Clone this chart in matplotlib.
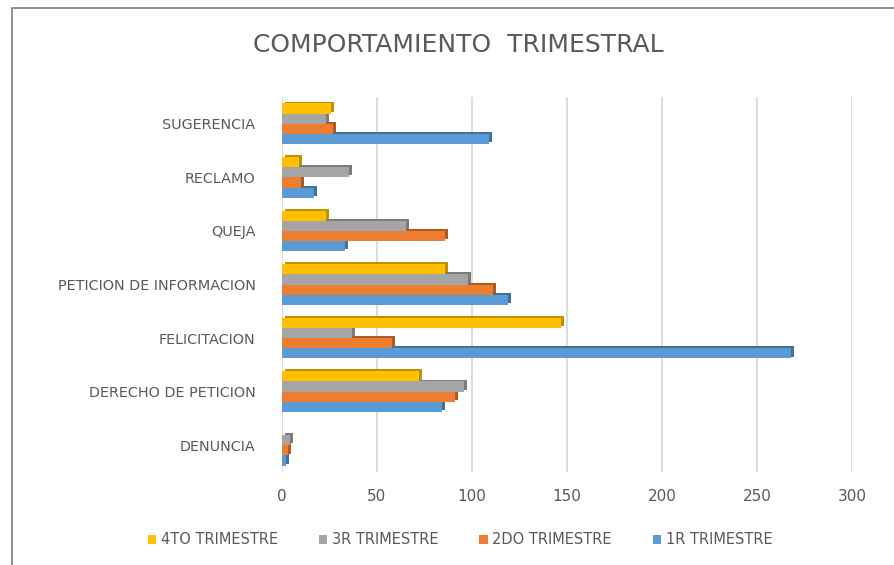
import matplotlib
matplotlib.use("Agg")
import matplotlib.pyplot as plt
from matplotlib.patches import Rectangle
import numpy as np

categories = ["DENUNCIA", "DERECHO DE PETICION", "FELICITACION",
              "PETICION DE INFORMACION", "QUEJA", "RECLAMO", "SUGERENCIA"]
t1 = [2, 84, 268, 119, 33, 17, 109]
t2 = [3, 91, 58, 111, 86, 10, 27]
t3 = [4, 96, 37, 98, 65, 35, 23]
t4 = [0, 72, 147, 86, 23, 9, 26]
series_names = ["1R TRIMESTRE", "2DO TRIMESTRE", "3R TRIMESTRE", "4TO TRIMESTRE"]
colors = ["#5B9BD5", "#ED7D31", "#A5A5A5", "#FFC000"]
dark = ["#41719C", "#AE5A21", "#7C7C7C", "#BF9000"]

fig = plt.figure(figsize=(8.94, 5.65), dpi=100)
# chart border
fig.add_artist(Rectangle((12/894, -0.01), 2, 1 - 8/565 + 0.01,
                         transform=fig.transFigure, fill=False,
                         edgecolor="#7F7F7F", linewidth=1.2))

ax = fig.add_axes([282/894, 1 - 472/565, 570/894, 375/565])
y = np.arange(len(categories))
h = 0.19
dx, dy = 1.6, 0.035

for i, vals in enumerate([t1, t2, t3, t4]):
    pos = y - 1.5*h + i*h
    # 3d side/top
    ax.barh(pos + dy, vals, height=h, left=dx, color=dark[i], zorder=2)
    ax.barh(pos, vals, height=h, color=colors[i], zorder=3, label=series_names[i])

ax.set_xlim(0, 300)
ax.set_ylim(-0.5, 6.5)
ax.set_xticks(range(0, 301, 50))
ax.set_yticks(y)
ax.set_yticklabels(categories)
ax.xaxis.grid(True, color="#D9D9D9", linewidth=1.3, zorder=0)
ax.set_axisbelow(True)
for s in ax.spines.values():
    s.set_visible(False)
ax.tick_params(axis="both", length=0, colors="#595959")
ax.tick_params(axis="y", pad=19, labelsize=10.4)
ax.tick_params(axis="x", pad=12, labelsize=11)

fig.text(458/894, 1 - 45/565, "COMPORTAMIENTO  TRIMESTRAL", ha="center", va="center",
         fontsize=18, color="#595959")

handles, labels = ax.get_legend_handles_labels()
leg = fig.legend(handles[::-1], labels[::-1], loc="center", bbox_to_anchor=(460/894, 1 - 540/565),
                 ncol=4, frameon=False, fontsize=10.5, handlelength=0.6, handleheight=0.6,
                 handletextpad=0.3, columnspacing=2.8)
for t in leg.get_texts():
    t.set_color("#595959")

fig.savefig("out.png", dpi=100)
